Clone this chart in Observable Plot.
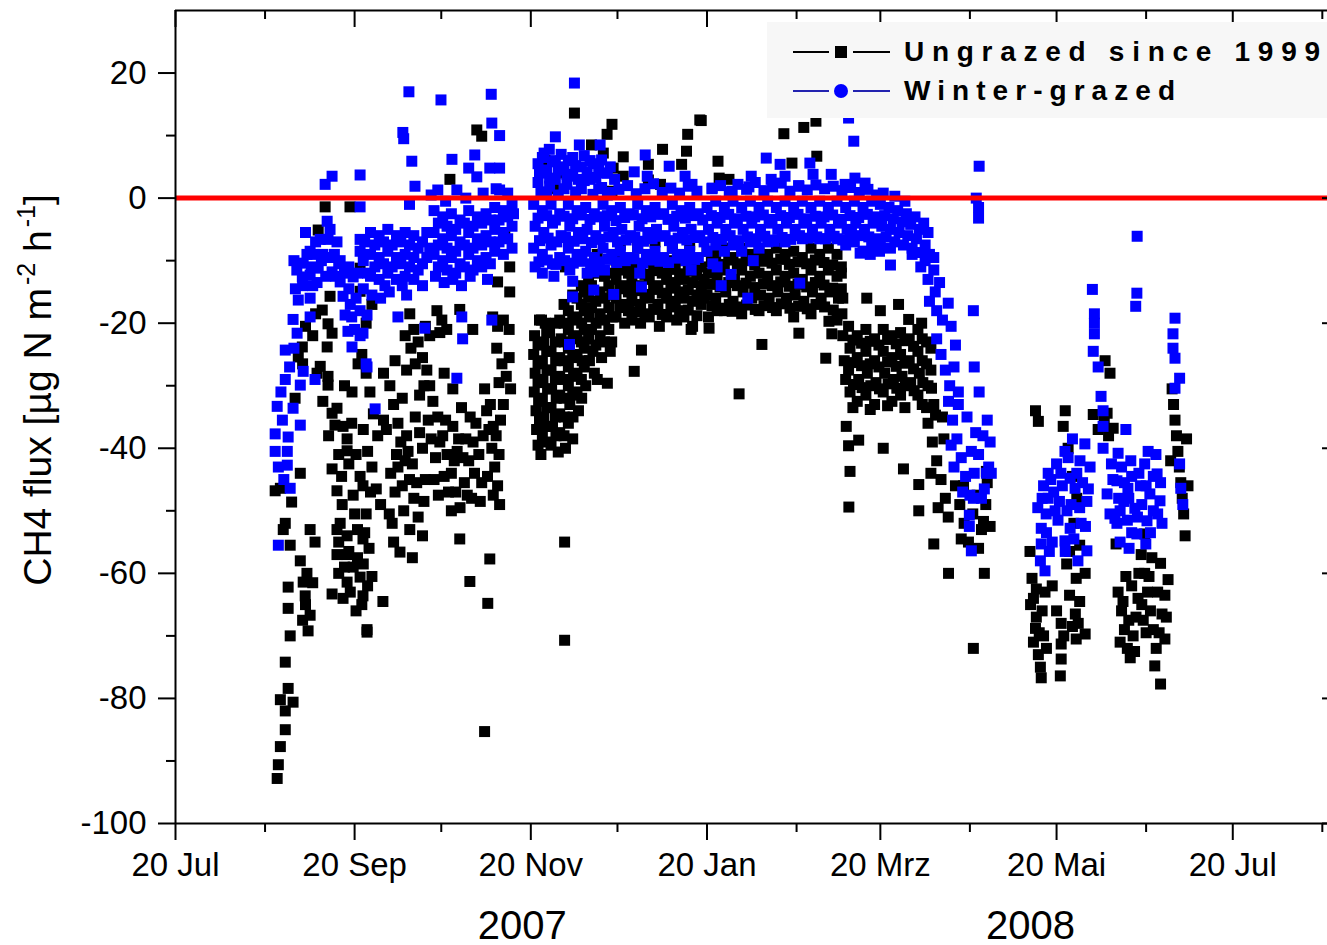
<!DOCTYPE html>
<html>
<head>
<meta charset="utf-8">
<script src="https://cdn.jsdelivr.net/npm/d3@7"></script>
<script src="https://cdn.jsdelivr.net/npm/@observablehq/plot@0.6"></script>
<style>
  html, body { margin: 0; padding: 0; background: #fff; overflow: hidden; }
  #chart svg { display: block; }
</style>
</head>
<body>
<div id="chart"></div>
<script>
// ---------- tick definitions ----------
const xMajorTicks = ["2007-07-20","2007-09-20","2007-11-20","2008-01-20","2008-03-20","2008-05-20","2008-07-20"];
const xMinorTicks = ["2007-08-20","2007-10-20","2007-12-20","2008-02-20","2008-04-20","2008-06-20","2008-08-20"];
const xTickLabels = ["20 Jul","20 Sep","20 Nov","20 Jan","20 Mrz","20 Mai","20 Jul"];
const yMajorTicks = [-100,-80,-60,-40,-20,0,20];
const yMinorTicks = [-90,-70,-50,-30,-10,10];
const xStartDate = "2007-07-20";
const xEndDate = "2008-08-21T19:00:00Z";
const yearLabels = [{label:"2007", date:"2007-11-17"},{label:"2008", date:"2008-05-11"}];
const legendItems = [
  {label:"Ungrazed since 1999", line:"#000000", fill:"#000000", symbol:"square"},
  {label:"Winter-grazed", line:"#2323b0", fill:"#0000ff", symbol:"circle"}
];

// ---------- data: [days since 20 Jul 2007, CH4 flux] ----------
const ungrazedSummer = [
[35.2,-92.8],[35.6,-90.6],[36.3,-87.7],[38.0,-85.0],[38.0,-82.0],[36.3,-80.2],[40.7,-80.6],[39.0,-78.4],[38.0,-74.2],[39.7,-70.0],[39.0,-65.6],[39.0,-62.2],[39.7,-55.5],[38.0,-52.0],[37.3,-53.0],[40.2,-48.6],[36.3,-46.4],[34.5,-46.8],[43.2,-44.0],[41.4,-32.0],
[43.9,-23.8],[42.5,-25.4],[44.2,-61.4],[44.9,-63.6],[46.6,-66.7],[45.9,-69.2],[46.6,-53.0],[48.3,-55.0],[43.2,-58.0],[45.5,-60.0],
[51.8,-1.4],[49.4,-5.1],[53.5,-15.7],[50.8,-17.9],[52.8,-20.1],[52.5,-23.8],[54.2,-21.6],[50.1,-26.9],[52.8,-28.5],[52.8,-29.9],[55.9,-33.6],[54.2,-34.4],[55.2,-36.3],[59.4,-38.5],[59.4,-40.4],[54.2,-43.3],[55.9,-46.8],[57.7,-49.0],[55.9,-53.0],[59.4,-54.0],[59.4,-57.0],[59.4,-61.4],[55.9,-57.0],[61.5,-59.0],[63.9,-60.6],[64.9,-63.6],[66.3,-69.0],[54.2,-63.3],[64.9,-54.5],[63.9,-44.5],[64.9,-46.0],[61.1,-31.0],[63.2,-26.5],[60.4,-1.4],[63.9,-11.2],[63.9,-14.9],[57.0,-52.0],[62.0,-50.5],[58.0,-64.0],[56.5,-60.0],[60.5,-63.0],[62.5,-66.0],[57.5,-44.5],[61.0,-36.0],[58.5,-30.0],
[64.5,-25.0],[66.0,-28.0],[67.3,-31.0],[68.5,-34.5],[65.0,-37.0],[66.5,-40.5],[68.0,-43.0],[69.5,-46.5],[71.0,-49.0],[65.5,-53.5],[67.0,-56.0],[65.0,-58.5],[66.5,-62.0],[64.5,-65.0],[66.3,-69.4],[71.8,-64.5],[70.0,-38.0],[72.0,-35.5],[66.0,-20.0],[68.0,-17.0],
[44.0,-26.5],[45.0,-20.5],[47.5,-22.0],[48.5,-18.5],[49.0,-28.0],[51.0,-32.5],[53.0,-38.0],[56.5,-41.0],[58.0,-36.5],[60.0,-42.5],[61.5,-47.5],[62.5,-41.0],[63.0,-53.0],[66.0,-50.5],[67.5,-47.0],[68.0,-60.5],[63.0,-57.5],[60.0,-56.5],[58.5,-59.0],[56.5,-55.0],[45.0,-65.0],[47.5,-61.5],[44.0,-67.5]
];
const ungrazedAutumn = [
[74.2,-30.0],[75.5,-33.0],[77.0,-36.0],[78.0,-39.0],[79.5,-42.0],[81.0,-45.0],[82.5,-48.0],[84.0,-51.0],[85.5,-54.0],[77.7,-56.6],[81.1,-53.0],[79.0,-50.0],[76.0,-47.0],[74.5,-44.0],[76.5,-41.0],[80.0,-38.0],[83.0,-35.0],[85.5,-40.0],[86.5,-45.0],[75.0,-52.0],[82.0,-57.5],[78.5,-32.0],[84.5,-31.5],
[81.1,-18.5],[82.5,-21.0],[84.0,-23.0],[85.5,-25.5],[87.0,-27.5],[83.0,-26.5],[86.5,-20.5],[81.5,-24.0],[88.0,-22.0],[80.0,-27.5],
[90.5,-18.0],[92.2,-19.5],[93.9,-21.0],[91.5,-21.5],
[89.1,-32.5],[90.8,-35.0],[92.5,-38.0],[94.0,-41.0],[95.5,-44.0],[97.0,-47.0],[98.5,-49.5],[100.0,-45.5],[101.5,-42.0],[103.0,-39.0],[104.0,-36.0],[99.0,-33.5],[96.0,-36.5],[93.0,-44.5],[91.0,-47.5],[95.5,-50.0],[102.5,-48.0],[97.5,-40.5],[90.0,-41.5],[100.5,-38.5],
[98.4,-54.5],[101.9,-61.3],[108.8,-57.7],[108.1,-64.8],[107.0,-85.3],[98.4,-17.8],[102.9,-21.0],
[107.7,-34.0],[108.5,-37.0],[109.5,-40.0],[110.5,-43.0],[111.5,-46.0],[112.2,-49.0],[108.0,-44.5],[110.0,-47.5],[111.0,-38.0],[112.5,-35.5],
[109.8,-19.0],[111.5,-20.5],[113.5,-19.5],[115.5,-21.0],
[111.2,-24.0],[113.0,-26.5],[114.5,-28.5],[116.0,-30.5],[112.0,-29.5],[115.5,-25.5],
[115.7,-11.0],[115.7,-15.0],[111.5,-13.4],[104.3,10.9],[95.0,3.0],[106.0,9.9],[114.0,-6.0],
[72.0,-28.0],[73.0,-37.0],[74.0,-50.5],[75.5,-55.0],[77.0,-43.0],[78.5,-46.0],[80.5,-40.5],[82.0,-42.5],[83.5,-45.5],[84.5,-37.5],[86.0,-48.5],[87.5,-35.5],[88.5,-38.5],[88.0,-30.0],[89.5,-45.0],[91.5,-39.0],[93.5,-35.5],[94.5,-47.0],[96.5,-42.0],[98.0,-38.5],[99.5,-41.5],[101.0,-47.5],[102.0,-35.0],[103.5,-44.0],[105.0,-41.0],[105.5,-48.5],[106.5,-38.0],[107.0,-30.5],[109.0,-33.0],[110.0,-36.5],[112.0,-41.0],[113.5,-33.0],[106.0,-45.5],[93.0,-28.0],[96.0,-30.5],[86.0,-30.0],[79.5,-22.0],[76.0,-26.0]
];
const ungrazedEarlyWinter = [
[124.3,-22.0],[124.0,-25.0],[124.5,-28.0],[124.2,-31.0],[124.8,-34.0],[125.0,-37.0],[125.5,-39.5],[126.5,-41.0],[127.0,-38.0],[127.5,-35.0],[127.0,-32.0],[127.2,-29.0],[127.0,-26.0],[127.5,-23.0],[128.0,-20.0],[129.5,-21.5],[130.0,-24.5],[130.0,-27.5],[130.2,-30.5],[130.0,-33.5],[130.5,-36.5],[130.0,-39.5],[132.5,-40.6],[133.0,-37.5],[133.0,-34.5],[133.0,-31.5],[133.0,-28.5],[133.0,-25.5],[133.5,-22.5],[133.0,-19.5],[136.0,-18.0],[136.0,-21.0],[136.0,-24.0],[136.0,-27.0],[136.0,-30.0],[136.5,-33.0],[136.0,-36.0],[139.0,-16.0],[139.0,-19.0],[139.0,-22.0],[139.0,-25.0],[139.0,-28.0],[139.0,-31.0],[139.5,-34.0],[141.5,-15.0],[141.5,-18.0],[141.5,-21.0],[141.5,-24.0],[141.5,-27.0],[142.0,-30.0],[126.0,-19.5],[135.0,-40.0],[137.5,-38.5],
[134.7,-55.0],[134.7,-70.7],[126.7,-19.5],
[144.0,-14.0],[144.0,-17.5],[144.0,-21.0],[144.5,-24.5],[145.0,-28.0],[147.0,-15.0],[147.0,-18.5],[147.0,-22.0],[147.5,-25.5],[150.0,-14.0],[150.0,-17.5],[150.0,-21.0],[150.5,-24.5],[149.5,-29.6],[146.0,-29.0],
[158.8,-27.7],[161.3,-24.3],
[152.5,-10.0],[152.5,-13.0],[152.5,-16.0],[152.5,-19.0],[155.0,-11.0],[155.0,-14.0],[155.0,-17.0],[155.5,-20.0],[158.0,-10.5],[158.0,-13.5],[158.0,-16.5],[158.0,-19.5],[161.0,-11.0],[161.0,-14.0],[161.0,-17.0],[161.0,-20.0],[164.0,-10.0],[164.0,-13.0],[164.0,-16.0],[164.0,-19.0],[167.0,-11.0],[167.0,-14.0],[167.0,-17.0],[167.5,-20.5],[170.0,-10.0],[170.0,-13.0],[170.0,-16.0],[170.0,-19.0],[173.0,-10.5],[173.0,-13.5],[173.0,-16.5],[173.5,-19.5],[176.0,-10.0],[176.0,-13.0],[176.0,-16.0],[176.0,-19.0],[179.0,-10.5],[179.0,-13.5],[179.0,-16.5],[179.0,-20.5],[182.0,-11.0],[182.0,-14.0],[182.0,-17.0],[178.5,-21.0],
[154.0,-7.5],[160.0,-8.0],[166.0,-7.0],[172.0,-8.0],[178.0,-7.5],[146.0,-9.0],[140.0,-10.0],[135.0,-11.0],
[138.1,13.6],[151.1,11.8],[149.4,10.2],[181.5,12.5],[177.3,10.2],[168.6,7.8],[176.9,7.5],[175.2,5.4],[144.0,8.5],[148.1,7.2],[155.0,6.6],[151.5,4.8],[155.0,3.5],[163.7,5.4],[163.7,2.9],[167.9,2.2],[151.1,1.1],[134.0,4.0],[128.0,6.0],[131.0,1.5],
[153.8,-11.5],[153.8,-14.5],[153.8,-17.5],[156.8,-12.0],[156.8,-15.0],[156.8,-18.0],[159.5,-11.8],[159.5,-14.8],[159.5,-18.2],[162.5,-12.2],[162.5,-15.4],[162.5,-18.5],[165.5,-11.6],[165.5,-14.6],[165.5,-17.8],[168.5,-12.0],[168.5,-15.2],[168.5,-18.6],[171.5,-11.4],[171.5,-14.4],[171.5,-17.4],[174.5,-12.1],[174.5,-15.0],[174.5,-18.0],[177.5,-11.7],[177.5,-14.7],[177.5,-17.9],[180.5,-12.3],[180.5,-15.5],[180.5,-18.8],[183.0,-13.0],[183.0,-16.0],
[125.5,-23.5],[125.5,-26.5],[125.5,-29.5],[125.7,-32.5],[126.0,-35.5],[128.5,-21.5],[128.5,-24.5],[128.6,-27.5],[128.8,-30.5],[128.5,-33.5],[128.7,-36.5],[128.5,-39.0],[131.5,-20.0],[131.5,-23.0],[131.6,-26.0],[131.5,-29.0],[131.8,-32.0],[131.5,-35.0],[131.7,-38.0],[134.5,-17.0],[134.5,-20.0],[134.6,-23.0],[134.5,-26.0],[134.8,-29.0],[134.5,-32.0],[134.6,-35.0],[134.5,-38.0],[137.5,-15.5],[137.5,-19.5],[137.6,-22.5],[137.5,-25.5],[137.8,-28.5],[137.5,-31.5],[137.6,-35.0],[140.5,-14.0],[140.5,-17.0],[140.6,-20.0],[140.5,-23.0],[140.8,-26.0],[140.5,-29.0],[140.6,-32.0],[143.0,-12.5],[143.0,-15.8],[143.2,-19.0],[143.0,-22.5],[143.3,-26.0],[145.5,-12.0],[145.5,-16.5],[145.6,-20.0],[145.5,-23.5],[148.5,-12.5],[148.5,-16.0],[148.6,-19.5],[148.5,-23.0],[151.0,-12.0],[151.0,-15.5],[151.2,-19.0],[151.0,-23.0]
];
const ungrazedLateWinter = [
[182.0,12.4],[210.6,10.3],[217.5,11.3],[221.7,12.3],[187.8,5.9],[213.4,5.6],[222.0,6.7],[188.2,3.2],[191.6,3.0],
[184.0,-8.5],[184.5,-12.0],[184.0,-15.5],[184.5,-19.0],[187.0,-9.0],[187.5,-12.5],[187.0,-16.0],[187.5,-18.0],[190.0,-8.0],[190.0,-11.5],[190.5,-15.0],[190.0,-18.0],[193.0,-9.5],[193.5,-13.0],[193.0,-16.5],[196.0,-8.0],[196.0,-11.5],[196.5,-15.0],[196.0,-18.5],[199.0,-9.0],[199.0,-12.5],[199.5,-16.0],[202.0,-8.5],[202.0,-12.0],[202.5,-15.5],[202.0,-18.0],[205.0,-9.0],[205.0,-12.5],[205.5,-16.0],[208.0,-8.0],[208.0,-11.5],[208.5,-15.0],[208.0,-18.0],[211.0,-9.0],[211.0,-12.5],[211.5,-16.0],[214.0,-8.5],[214.0,-12.0],[214.5,-15.5],[214.0,-19.0],[217.0,-9.5],[217.0,-13.0],[217.5,-16.5],[220.0,-8.0],[220.0,-11.5],[220.5,-15.0],[220.0,-18.5],[223.0,-9.0],[223.0,-12.5],[223.5,-16.0],[226.0,-8.0],[226.0,-11.5],[226.5,-15.0],[229.0,-9.0],[229.0,-12.5],[229.5,-16.0],[229.0,-19.5],
[184.7,-20.8],[192.7,-18.1],[215.8,-21.6],[203.0,-23.4],[195.1,-31.3],[225.1,-25.6],[227.2,-21.7],[226.2,-19.7],[231.0,-22.0],[231.5,-26.0],[232.0,-29.0],
[185.5,-10.2],[185.5,-13.8],[185.7,-17.2],[188.5,-10.6],[188.5,-14.2],[188.7,-17.6],[191.5,-9.9],[191.5,-13.5],[191.7,-17.0],[194.5,-10.5],[194.5,-14.0],[194.7,-17.4],[197.5,-10.0],[197.5,-13.6],[197.7,-17.1],[200.5,-10.7],[200.5,-14.3],[200.7,-17.8],[203.5,-10.1],[203.5,-13.7],[203.7,-17.2],[206.5,-10.4],[206.5,-14.0],[206.7,-17.5],[209.5,-9.8],[209.5,-13.4],[209.7,-16.9],[212.5,-10.6],[212.5,-14.1],[212.7,-17.6],[215.5,-10.2],[215.5,-13.8],[215.7,-17.3],[218.5,-10.5],[218.5,-14.2],[218.7,-17.7],[221.5,-9.9],[221.5,-13.5],[221.7,-17.0],[224.5,-10.3],[224.5,-13.9],[224.7,-17.4],[227.5,-10.7],[227.5,-14.4],[227.7,-17.9],[230.5,-11.0],[230.5,-14.5],[230.7,-18.5]
];
const ungrazedSpring = [
[233.0,-20.5],[233.5,-24.0],[233.0,-27.5],[233.5,-31.0],[236.0,-22.0],[236.0,-25.5],[236.5,-29.0],[236.0,-32.5],[239.0,-21.0],[239.0,-24.5],[239.5,-28.0],[239.0,-31.5],[242.0,-22.5],[242.0,-26.0],[242.5,-29.5],[242.0,-33.0],[245.0,-21.0],[245.0,-24.5],[245.5,-28.0],[245.0,-31.0],[248.0,-22.0],[248.0,-25.5],[248.5,-29.0],[248.0,-32.5],[251.0,-21.5],[251.0,-25.0],[251.5,-28.5],[251.0,-31.5],[254.0,-22.5],[254.0,-26.0],[254.5,-29.5],[257.0,-21.0],[257.0,-24.5],[257.5,-28.0],[257.0,-31.5],[260.0,-23.0],[260.0,-26.5],[260.5,-30.0],[260.0,-33.5],
[239.3,-16.0],[250.3,-17.0],[253.8,-19.4],[258.3,-20.0],[231.0,-16.0],[230.5,-12.0],[244.0,-18.0],
[232.2,-36.5],[233.0,-39.6],[236.5,-38.7],[233.5,-43.7],[245.0,-40.0],[252.0,-43.3],[257.3,-45.8],[233.1,-49.4],[257.3,-50.0],[262.5,-55.3],[267.6,-60.0],[280.0,-60.0],[276.2,-72.0],
[260.5,-36.0],[262.0,-39.0],[263.5,-42.0],[265.0,-45.0],[266.5,-48.0],[267.5,-51.0],[261.5,-44.0],[264.0,-49.5],[266.0,-38.5],[262.5,-33.0],[265.5,-35.0],
[270.0,-46.0],[271.5,-49.0],[273.0,-52.0],[274.5,-55.0],[276.0,-50.5],[277.5,-47.5],[279.0,-53.0],[280.5,-49.0],[282.0,-52.5],[272.0,-54.5],[278.0,-56.0],[281.0,-45.5],
[261.7,-30.4],[263.1,-34.7],[272.8,-46.0],[280.7,-43.7],[279.7,-51.7],
[234.5,-22.7],[234.5,-26.3],[234.7,-29.8],[234.5,-33.5],[237.5,-23.2],[237.5,-26.8],[237.7,-30.3],[240.5,-22.9],[240.5,-26.5],[240.7,-30.0],[240.5,-33.8],[243.5,-23.5],[243.5,-27.0],[243.7,-30.5],[246.5,-22.6],[246.5,-26.2],[246.7,-29.7],[246.5,-33.2],[249.5,-23.3],[249.5,-26.9],[249.7,-30.4],[252.5,-22.8],[252.5,-26.4],[252.7,-30.0],[252.5,-33.5],[255.5,-23.7],[255.5,-27.3],[255.7,-30.8],[258.5,-22.5],[258.5,-26.0],[258.7,-29.5],[258.5,-33.0],[261.5,-24.0],[261.5,-27.5]
];
const ungrazedSummer08 = [
[297.0,-64.0],[296.0,-65.0],[297.7,-68.8],[297.0,-71.0],[298.7,-73.0],[299.4,-75.0],[299.7,-76.7],[296.5,-60.8],[301.0,-63.0],[298.0,-67.0],[300.5,-70.0],[295.8,-56.5],
[306.6,-68.0],[311.5,-66.5],[312.5,-68.0],[314.9,-69.7],[311.8,-70.5],[306.6,-71.3],[306.6,-73.7],[306.3,-76.4],[311.8,-60.8],[314.9,-60.0],[303.5,-62.0],[308.5,-58.5],
[308.0,-34.0],[307.3,-36.5],[297.7,-34.0],[298.7,-35.7],[309.0,-40.0],[310.5,-44.5],[312.0,-48.0],[311.0,-52.0],[313.0,-55.5],[309.5,-56.5],
[317.7,-34.6],[319.4,-37.0],[321.5,-35.5],[323.0,-38.0],[324.6,-36.8],[322.5,-34.4],[321.8,-26.0],[323.5,-28.0],[325.6,-55.3],
[326.3,-63.0],[327.5,-66.0],[328.5,-69.0],[329.5,-72.0],[330.5,-73.5],[331.5,-70.0],[332.5,-67.0],[333.2,-64.0],[329.0,-60.5],[327.0,-71.0],[331.0,-62.0],
[334.3,-57.0],[335.5,-60.0],[336.5,-63.0],[337.5,-66.0],[338.5,-69.0],[339.5,-72.0],[340.5,-69.5],[341.5,-66.5],[342.5,-63.5],[343.6,-61.0],[341.0,-58.4],[336.0,-69.5],[338.0,-57.5],[342.5,-70.5],[334.5,-65.0],[339.0,-74.8],[341.0,-77.7],[335.5,-53.7],[333.5,-60.0],
[345.0,-30.5],[345.5,-33.0],[346.0,-35.5],[346.5,-38.0],[347.0,-40.5],[347.5,-43.0],[348.0,-45.5],[348.5,-48.0],[349.0,-50.5],[349.5,-54.0],[350.0,-38.5],[344.5,-42.0],[350.5,-46.0],
[298.0,-62.5],[299.0,-69.5],[300.0,-66.0],[301.5,-72.0],[305.0,-66.0],[307.5,-70.0],[309.5,-63.5],[310.5,-68.5],[313.0,-64.5],[328.0,-64.5],[330.0,-67.5],[332.0,-72.5],[335.0,-67.5],[337.0,-60.5],[340.0,-63.0],[343.0,-67.0]
];

const grazedSummer = [
[54.2,3.5],[51.8,2.2],[63.9,3.7],[63.9,-1.4],[52.5,-3.7],[52.8,-6.6],[50.1,-6.6],[55.9,-7.0],[63.9,-6.6],[63.9,-8.5],[46.6,-8.5],[44.2,-10.4],[46.6,-12.3],[43.9,-12.6],[49.4,-11.2],[54.2,-11.8],[57.0,-13.4],[58.0,-15.7],[58.7,-18.7],[59.7,-21.3],[61.1,-23.8],[64.9,-21.6],[66.3,-18.7],[61.5,-12.6],[42.5,-16.3],[40.7,-19.4],[46.6,-16.0],[42.1,-21.6],[38.0,-24.3],[46.6,-19.0],[38.0,-29.0],[44.2,-27.7],[43.2,-29.9],[48.3,-29.0],[35.2,-33.3],[40.7,-33.6],[43.2,-36.3],[34.5,-37.7],[39.0,-38.2],[34.5,-40.5],[38.7,-40.5],[35.6,-43.0],[38.7,-42.7],[39.7,-46.4],[35.6,-55.5],[66.0,-26.5],
[41.0,-10.0],[48.0,-9.0],[50.5,-10.0],[45.0,-5.5],[47.5,-14.0],[41.5,-14.5],[53.0,-9.5],[56.5,-10.5],[60.0,-11.0],[62.5,-16.0],[60.5,-17.0],[37.0,-35.5],[36.5,-31.0],[39.5,-27.0],[41.0,-24.0],[37.5,-45.0],
[63.9,-18.0],[63.9,-22.0],[66.3,-27.0],[69.1,-33.7],[77.0,-19.0],[86.3,-20.8],
[67.5,-5.5],[67.5,-9.0],[67.5,-12.5],[68.0,-15.5],[70.5,-6.0],[70.5,-9.5],[70.5,-13.0],[71.0,-16.0],[73.5,-5.0],[73.5,-8.5],[73.5,-12.0],[74.0,-15.0],[76.5,-6.0],[76.5,-9.5],[76.5,-13.0],[79.5,-5.5],[79.5,-9.0],[79.5,-12.5],[80.0,-15.5],[82.5,-6.0],[82.5,-9.5],[82.5,-13.0],[85.5,-7.0],[85.5,-10.5],[85.5,-14.0],[88.0,-8.0],[65.0,-10.0],[65.0,-14.5],
[80.8,17.0],[78.7,10.5],[79.0,9.5],[81.8,5.9],[82.9,1.9],[81.0,-1.0],
[42.0,-11.5],[44.0,-14.0],[45.5,-9.0],[47.0,-11.0],[48.5,-7.0],[49.0,-13.5],[51.0,-9.0],[52.0,-12.5],[53.5,-5.0],[55.0,-9.0],[55.5,-12.5],[57.0,-10.0],[58.5,-12.0],[60.0,-14.5],[61.0,-19.0],[62.0,-21.0],[63.0,-12.0],[65.5,-7.0],[66.5,-12.0],[69.0,-7.5],[69.0,-11.0],[72.0,-7.0],[72.0,-10.5],[72.5,-14.0],[75.0,-7.5],[75.0,-11.0],[78.0,-7.0],[78.0,-10.5],[78.5,-14.0],[81.0,-7.5],[81.0,-11.0],[84.0,-8.0],[84.0,-11.5],[87.0,-9.5],[87.0,-5.5]
];
const grazedAutumn = [
[89.5,-2.0],[89.5,-5.5],[89.5,-9.0],[90.0,-12.5],[92.5,-3.0],[92.5,-6.5],[92.5,-10.0],[93.0,-13.5],[95.5,-2.5],[95.5,-6.0],[95.5,-9.5],[96.0,-13.0],[98.5,-3.5],[98.5,-7.0],[98.5,-10.5],[99.0,-14.0],[101.5,-2.0],[101.5,-5.5],[101.5,-9.0],[102.0,-12.5],[104.5,-3.0],[104.5,-6.5],[104.5,-10.0],[107.5,-2.5],[107.5,-6.0],[107.5,-9.5],[108.0,-13.0],[110.5,-1.5],[110.5,-5.0],[110.5,-8.5],[113.5,-2.0],[113.5,-5.5],[113.5,-9.0],[116.5,-1.0],[116.5,-4.5],[116.5,-8.0],[115.0,0.8],
[91.9,15.7],[109.3,16.6],[109.5,12.0],[112.2,10.0],[95.7,6.2],[103.6,6.9],[101.5,4.8],[104.3,3.4],[108.8,4.8],[112.2,4.8],[90.8,1.3],[97.4,1.3],[112.2,1.3],
[99.1,-19.0],[99.4,-22.5],[97.4,-28.8],[109.5,-19.5],
[91.0,-4.0],[91.0,-7.5],[91.0,-11.0],[94.0,-4.5],[94.0,-8.0],[94.0,-11.5],[97.0,-5.0],[97.0,-8.5],[97.0,-12.0],[100.0,-4.0],[100.0,-7.5],[100.0,-11.0],[103.0,-4.5],[103.0,-8.0],[103.0,-11.5],[106.0,-4.0],[106.0,-7.5],[106.0,-11.0],[109.0,-3.5],[109.0,-7.0],[109.0,-10.5],[112.0,-3.5],[112.0,-7.0],[115.0,-3.0],[115.0,-6.5],[117.0,-2.5],[88.5,0.5],[93.5,-0.5],[100.5,0.0],[106.5,0.8],[111.0,1.5]
];
const grazedEarlyWinter = [
[138.1,18.4],[131.5,9.8],[139.8,8.5],[147.0,8.5],[129.4,7.8],[127.6,7.2],
[125.5,5.5],[125.5,2.5],[128.5,4.5],[128.5,1.0],[131.5,6.0],[131.5,3.0],[134.5,5.0],[134.5,1.5],[137.5,6.5],[137.5,3.5],[140.5,5.0],[140.5,1.5],[143.5,6.0],[143.5,3.0],[146.5,5.0],[146.5,1.5],[149.5,4.0],[149.5,0.5],
[162.6,6.9],[158.8,4.2],[163.3,3.5],[170.9,5.1],[176.4,3.5],[178.8,2.2],
[124.0,-1.0],[124.5,-4.5],[124.0,-8.0],[124.5,-11.0],[127.0,-2.0],[127.5,-5.5],[127.0,-9.0],[130.0,-1.0],[130.5,-4.0],[130.0,-7.5],[130.5,-10.5],[133.0,-2.5],[133.5,-6.0],[133.0,-9.5],[136.0,-1.0],[136.5,-4.5],[136.0,-8.0],[136.5,-11.5],[139.0,-2.0],[139.5,-5.5],[139.0,-9.0],[142.0,-1.5],[142.5,-5.0],[142.0,-8.5],[142.5,-12.0],[145.0,-2.5],[145.5,-6.0],[145.0,-9.5],[148.0,-1.0],[148.5,-4.5],[148.0,-8.0],[148.5,-11.5],[151.0,-2.0],[151.5,-5.5],[151.0,-9.0],[154.0,-1.5],[154.5,-5.0],[154.0,-8.5],[157.0,-2.5],[157.5,-6.0],[157.0,-9.5],[160.0,-1.0],[160.5,-4.5],[160.0,-8.0],[163.0,-2.0],[163.5,-5.5],[163.0,-9.0],[166.0,-1.5],[166.5,-5.0],[166.0,-8.5],[169.0,-2.5],[169.5,-6.0],[169.0,-9.5],[172.0,-1.0],[172.5,-4.5],[172.0,-8.0],[175.0,-2.0],[175.5,-5.5],[175.0,-9.0],[178.0,-1.5],[178.5,-5.0],[178.0,-8.5],[178.5,-11.5],[181.0,-2.5],[181.5,-6.0],[181.0,-9.5],
[137.5,-13.3],[137.5,-15.8],[144.8,-11.8],[144.8,-14.7],[151.7,-15.4],[160.7,-12.0],[161.3,-14.2],[136.4,-23.4],[131.0,-12.5],[127.0,-12.0],
[125.5,-3.2],[126.0,-6.8],[125.8,-10.2],[128.5,-2.8],[129.0,-6.4],[128.7,-9.9],[131.5,-3.5],[132.0,-7.0],[131.7,-10.6],[134.5,-2.9],[135.0,-6.3],[134.7,-10.0],[137.5,-3.3],[138.0,-6.9],[137.7,-10.4],[140.5,-2.7],[141.0,-6.5],[140.7,-10.1],[143.5,-3.4],[144.0,-7.1],[143.7,-10.5],[146.5,-3.0],[147.0,-6.6],[146.7,-10.2],[149.5,-2.8],[150.0,-6.2],[149.7,-9.8],[152.5,-3.6],[153.0,-7.0],[152.7,-10.3],[155.5,-3.1],[156.0,-6.7],[155.7,-10.0],[158.5,-2.7],[159.0,-6.3],[158.7,-9.7],[161.5,-3.3],[162.0,-6.9],[161.7,-10.4],[164.5,-3.0],[165.0,-6.5],[164.7,-9.9],[167.5,-2.6],[168.0,-6.1],[167.7,-10.1],[170.5,-3.4],[171.0,-6.8],[170.7,-10.3],[173.5,-2.9],[174.0,-6.4],[173.7,-9.6],[176.5,-3.2],[177.0,-6.7],[176.7,-10.0],[179.5,-2.8],[180.0,-6.3],[179.7,-9.8],[182.5,-3.5],[183.0,-7.0],
[126.5,0.8],[129.5,1.9],[132.5,0.5],[135.5,2.2],[138.5,1.0],[141.5,2.8],[144.5,0.6],[147.5,1.7],[150.5,0.9],[153.5,1.4],[156.5,2.0],[159.5,0.7],[162.5,1.5],[165.5,2.3],[168.5,0.9],[171.5,1.6],[174.5,0.8],[177.5,1.9],[180.5,1.1],
[126.0,4.0],[127.0,6.5],[129.5,3.2],[130.5,5.8],[132.5,4.5],[133.5,7.0],[135.5,3.8],[136.0,6.0],[138.5,5.2],[139.5,3.0],[141.5,6.8],[142.5,4.2],[144.5,5.5],[145.5,3.3],[147.5,6.1],[148.5,4.0],[150.5,5.0],[152.0,3.0]
];
const grazedLateWinter = [
[234.8,9.1],[204.5,6.4],[209.3,5.4],[219.6,5.6],[199.3,3.5],[211.0,3.5],[220.7,3.8],[227.0,3.8],[235.2,3.2],[238.7,2.4],[185.8,1.6],[192.7,1.1],[198.5,1.8],[206.2,3.0],[215.8,1.9],[231.8,2.2],[233.0,12.8],
[184.0,-1.5],[184.5,-5.0],[184.0,-8.5],[187.0,-0.5],[187.5,-4.0],[187.0,-7.5],[187.5,-11.0],[190.0,-1.5],[190.5,-5.0],[190.0,-8.5],[193.0,-0.5],[193.5,-4.0],[193.0,-7.5],[196.0,-1.5],[196.5,-5.0],[196.0,-8.5],[199.0,-0.5],[199.5,-4.0],[199.0,-7.0],[202.0,-1.5],[202.5,-5.0],[202.0,-8.0],[205.0,-0.5],[205.5,-4.0],[205.0,-7.0],[208.0,-1.5],[208.5,-5.0],[211.0,-0.5],[211.5,-4.0],[211.0,-7.0],[214.0,-1.5],[214.5,-5.0],[217.0,-0.5],[217.5,-4.0],[217.0,-6.5],[220.0,-1.5],[220.5,-5.0],[223.0,-0.5],[223.5,-4.0],[223.0,-6.5],[226.0,-1.5],[226.5,-5.0],[229.0,-0.5],[229.5,-4.0],[229.0,-6.5],[232.0,-1.5],[232.5,-5.0],[232.0,-7.5],[235.0,-0.5],[235.5,-4.0],[235.0,-7.0],[238.0,-1.5],[238.5,-5.0],[238.0,-8.5],[241.0,-0.5],[241.5,-4.0],[241.0,-7.5],
[188.9,-14.0],[192.3,-12.2],[198.1,-16.0],[216.1,-13.6],[207.2,-6.9],[200.0,-10.0],[186.0,-10.5],[237.0,-8.8],[240.5,-9.0],
[185.5,-2.8],[186.0,-6.3],[185.7,1.5],[188.5,-3.1],[189.0,-6.6],[188.7,2.0],[191.5,-2.6],[192.0,-6.0],[191.7,1.0],[194.5,-3.3],[195.0,-6.8],[194.7,2.2],[197.5,-2.9],[198.0,-6.2],[197.7,1.4],[200.5,-3.0],[201.0,-6.5],[200.7,2.5],[203.5,-2.7],[204.0,-6.1],[203.7,1.2],[206.5,-3.4],[207.0,-6.7],[206.7,1.8],[209.5,-2.8],[210.0,-6.3],[209.7,2.4],[212.5,-3.1],[213.0,-6.6],[212.7,1.1],[215.5,-2.6],[216.0,-6.0],[215.7,2.0],[218.5,-3.3],[219.0,-6.4],[218.7,1.3],[221.5,-2.9],[222.0,-6.2],[221.7,2.1],[224.5,-3.0],[225.0,-6.5],[224.7,1.5],[227.5,-2.7],[228.0,-6.1],[227.7,1.9],[230.5,-3.4],[231.0,-6.7],[230.7,1.2],[233.5,-2.8],[234.0,-5.5],[233.7,1.7],[236.5,-3.1],[237.0,-6.0],[236.7,0.9],[239.5,-2.6],[240.0,-6.2],[239.7,1.4],[242.5,-3.0],[243.0,-6.5],[242.7,0.5]
];
const grazedSpring = [
[244.0,-1.0],[244.5,-4.5],[247.0,-1.5],[247.5,-5.0],[250.0,-2.0],[250.5,-5.5],[253.0,-2.5],[253.5,-6.0],[256.0,-3.0],[256.5,-6.5],[259.0,-4.0],[259.5,-7.5],[255.0,-9.0],[259.5,-10.0],[262.5,-9.5],[244.0,-7.5],[247.5,-8.0],
[233.5,-6.4],[238.8,-8.5],[243.7,-8.5],[247.5,-10.7],
[258.0,-11.0],[260.5,-13.0],[262.5,-11.5],[263.0,-15.0],[264.5,-13.5],
[261.0,-16.5],[263.5,-18.0],[265.5,-19.5],[267.5,-16.8],[268.5,-20.5],[276.2,-18.0],
[263.5,-22.5],[265.0,-25.0],[266.5,-27.5],[268.0,-30.0],[270.0,-23.5],[269.5,-27.0],[271.0,-31.0],[276.5,-27.0],[278.2,-31.0],
[267.6,-32.5],[269.0,-35.5],[270.5,-38.5],[272.0,-41.5],[273.5,-44.5],[275.0,-47.5],[276.5,-44.0],[278.0,-41.0],[279.5,-38.0],[281.0,-35.5],[282.0,-39.0],[281.5,-43.0],[280.0,-46.5],[277.0,-37.5],[274.0,-35.0],[271.0,-33.0],[275.5,-40.5],[272.5,-47.0],[269.5,-43.0],[279.0,-48.0],[268.5,-39.5],[282.4,-44.0],
[280.7,-44.0],[276.2,-48.0],[274.8,-50.7],[274.8,-52.5],[275.5,-56.4],
[277.2,0.0],[278.0,-1.5],[278.0,-3.2],[278.2,5.1],
[245.5,-2.8],[246.0,-6.2],[248.5,-3.3],[249.0,-7.0],[251.5,-3.8],[252.0,-7.5],[254.5,-4.2],[255.0,-8.0],[257.5,-5.0],[258.0,-8.7],[260.5,-5.5],[261.0,-9.0],[245.0,0.8],[249.0,0.3],[252.5,-0.5]
];
const grazedSummer08 = [
[317.4,-14.6],[332.8,-15.2],[332.4,-17.3],[346.0,-19.2],[318.1,-18.5],[318.1,-20.0],[318.1,-21.7],[345.3,-21.7],[345.3,-24.0],[346.0,-25.6],[317.7,-24.5],[319.4,-27.0],[347.6,-28.8],[346.0,-30.4],[320.4,-31.7],[321.1,-34.0],[321.1,-36.5],[321.1,-40.0],[329.0,-37.0],[326.3,-40.8],[336.7,-40.5],[339.4,-41.0],[347.6,-42.5],[348.0,-46.4],[348.7,-49.0],
[302.1,-44.0],[302.1,-48.0],[301.4,-50.5],[299.7,-52.8],[299.7,-55.3],[299.4,-58.0],[301.0,-59.6],[307.9,-40.5],[309.7,-44.8],[308.6,-50.0],[307.9,-54.8],[312.4,-58.0],[315.5,-56.4],[315.5,-48.5],[316.6,-43.0],[314.8,-39.3],[313.1,-42.0],[311.4,-46.4],[309.7,-52.8],[300.5,-46.0],[304.0,-47.0],[305.5,-51.5],[306.5,-44.0],[303.5,-55.0],[313.5,-52.0],[310.5,-38.5],[298.5,-49.5],
[322.5,-47.3],[325.9,-45.2],[328.3,-48.5],[325.9,-52.0],[330.1,-56.0],[332.8,-53.7],[336.3,-51.6],[337.3,-47.3],[339.8,-44.1],[340.8,-48.4],[335.9,-55.3],[332.1,-49.6],[325.2,-51.2],[330.7,-42.0],[335.5,-42.5],[329.7,-46.4],[324.0,-42.5],[327.5,-43.0],[334.0,-46.0],[338.5,-50.0],[331.0,-44.5],[327.0,-55.0],[341.5,-52.0],[323.5,-50.5],
[332.9,-6.1],
[300.0,-48.0],[301.5,-53.5],[302.5,-56.5],[303.0,-45.0],[304.5,-50.0],[305.0,-42.5],[306.0,-48.5],[307.0,-46.0],[308.0,-56.5],[309.0,-41.5],[310.0,-49.0],[311.0,-54.5],[312.0,-44.0],[313.0,-49.5],[314.0,-45.5],[315.0,-52.5],[316.0,-46.5],
[324.5,-45.0],[326.5,-48.0],[328.5,-45.5],[329.5,-51.5],[331.0,-53.5],[333.5,-44.0],[334.5,-49.0],[336.0,-46.0],[337.5,-53.5],[338.5,-44.5],[340.0,-50.5],[341.0,-45.5],[333.0,-51.0],[330.0,-48.0],[327.0,-50.0]
];

// ---------- build ----------
const t0 = +new Date(xStartDate);
const toDate = d => new Date(t0 + d * 864e5);
const ungrazed = [].concat(ungrazedSummer, ungrazedAutumn, ungrazedEarlyWinter, ungrazedLateWinter, ungrazedSpring, ungrazedSummer08)
  .map(([d, v]) => ({date: toDate(d), flux: v}));
const grazed = [].concat(grazedSummer, grazedAutumn, grazedEarlyWinter, grazedLateWinter, grazedSpring, grazedSummer08)
  .map(([d, v]) => ({date: toDate(d), flux: v}));

const xMajor = xMajorTicks.map(s => new Date(s));
const xMinor = xMinorTicks.map(s => new Date(s));
const labelOf = new Map(xMajor.map((t, i) => [+t, xTickLabels[i]]));
const years = yearLabels.map(d => ({label: d.label, date: new Date(d.date)}));

const W = 1327, H = 945, mT = 10, mB = 122, mL = 175, mR = 0;
const plotH = H - mT - mB, plotW = W - mL - mR;
const FONT = "'Liberation Sans', Arial, Helvetica, sans-serif";

const chart = Plot.plot({
  width: W, height: H,
  marginTop: mT, marginBottom: mB, marginLeft: mL, marginRight: mR,
  style: {fontFamily: FONT, background: "#fff", color: "#000", overflow: "visible"},
  x: {type: "utc", domain: [new Date(xStartDate), new Date(xEndDate)]},
  y: {domain: [-100, 30]},
  marks: [
    Plot.dot(ungrazed, {x: "date", y: "flux", symbol: "square", r: 6.2, fill: "#000", stroke: "none"}),
    Plot.dot(grazed, {x: "date", y: "flux", symbol: "square", r: 6.2, fill: "#0000ff", stroke: "none"}),
    Plot.ruleY([0], {stroke: "#ff0000", strokeWidth: 5}),
    // frame
    Plot.ruleY([30, -100], {stroke: "#000", strokeWidth: 2}),
    Plot.ruleX([new Date(xStartDate)], {stroke: "#000", strokeWidth: 2}),
    // left axis
    Plot.axisY({ticks: yMajorTicks, tickSize: 17, tickPadding: 12, fontSize: 33, tickFormat: d => String(d), label: null, strokeWidth: 2}),
    Plot.axisY({ticks: yMinorTicks, tickSize: 9, tickFormat: () => "", label: null, strokeWidth: 2}),
    // bottom axis
    Plot.axisX({ticks: xMajor, tickSize: 17, tickPadding: 12, fontSize: 33, tickFormat: d => labelOf.get(+d), label: null, strokeWidth: 2}),
    Plot.axisX({ticks: xMinor, tickSize: 9, tickFormat: () => "", label: null, strokeWidth: 2}),
    // top inward ticks
    Plot.ruleX(xMajor, {stroke: "#000", strokeWidth: 2, insetBottom: plotH - 17}),
    Plot.ruleX(xMinor, {stroke: "#000", strokeWidth: 2, insetBottom: plotH - 9}),
    // right inward ticks (frame lies just outside the picture)
    Plot.ruleY(yMajorTicks, {stroke: "#000", strokeWidth: 2, insetLeft: plotW - 5}),
    // year labels
    Plot.text(years, {x: "date", y: () => -100, text: "label", dy: 103, fontSize: 40, lineAnchor: "middle", fill: "#000"})
  ]
});

document.getElementById("chart").appendChild(chart);
const svg = d3.select(chart);

// y-axis title with superscripts
const yt = svg.append("text")
  .attr("transform", "translate(51,390) rotate(-90)")
  .attr("text-anchor", "middle")
  .attr("font-family", FONT)
  .attr("font-size", 39)
  .attr("fill", "#000");
yt.append("tspan").text("CH4 flux [µg N m");
yt.append("tspan").attr("dx", 3).attr("dy", -16).attr("font-size", 25).text("-2");
yt.append("tspan").attr("dy", 16).text(" h");
yt.append("tspan").attr("dx", 3).attr("dy", -16).attr("font-size", 25).text("-1");
yt.append("tspan").attr("dy", 16).text("]");

// legend
const lg = svg.append("g").attr("font-family", FONT).attr("text-anchor", "start");
lg.append("rect").attr("x", 767).attr("y", 22).attr("width", W - 767).attr("height", 96).attr("fill", "#f7f7f7");
const textLen = [416, 271];
legendItems.forEach((it, i) => {
  const cy = 52 + i * 39;
  lg.append("line").attr("x1", 793).attr("x2", 829).attr("y1", cy).attr("y2", cy).attr("stroke", it.line).attr("stroke-width", 2);
  lg.append("line").attr("x1", 853).attr("x2", 890).attr("y1", cy).attr("y2", cy).attr("stroke", it.line).attr("stroke-width", 2);
  if (it.symbol === "square") {
    lg.append("rect").attr("x", 835).attr("y", cy - 6).attr("width", 12).attr("height", 12).attr("fill", it.fill);
  } else {
    lg.append("circle").attr("cx", 841).attr("cy", cy).attr("r", 7).attr("fill", it.fill);
  }
  lg.append("text").attr("x", 904).attr("y", cy + 9)
    .attr("text-anchor", "start")
    .attr("font-size", 28).attr("font-weight", "bold").attr("fill", "#000")
    .attr("textLength", textLen[i]).attr("lengthAdjust", "spacing")
    .text(it.label);
});
</script>
</body>
</html>
